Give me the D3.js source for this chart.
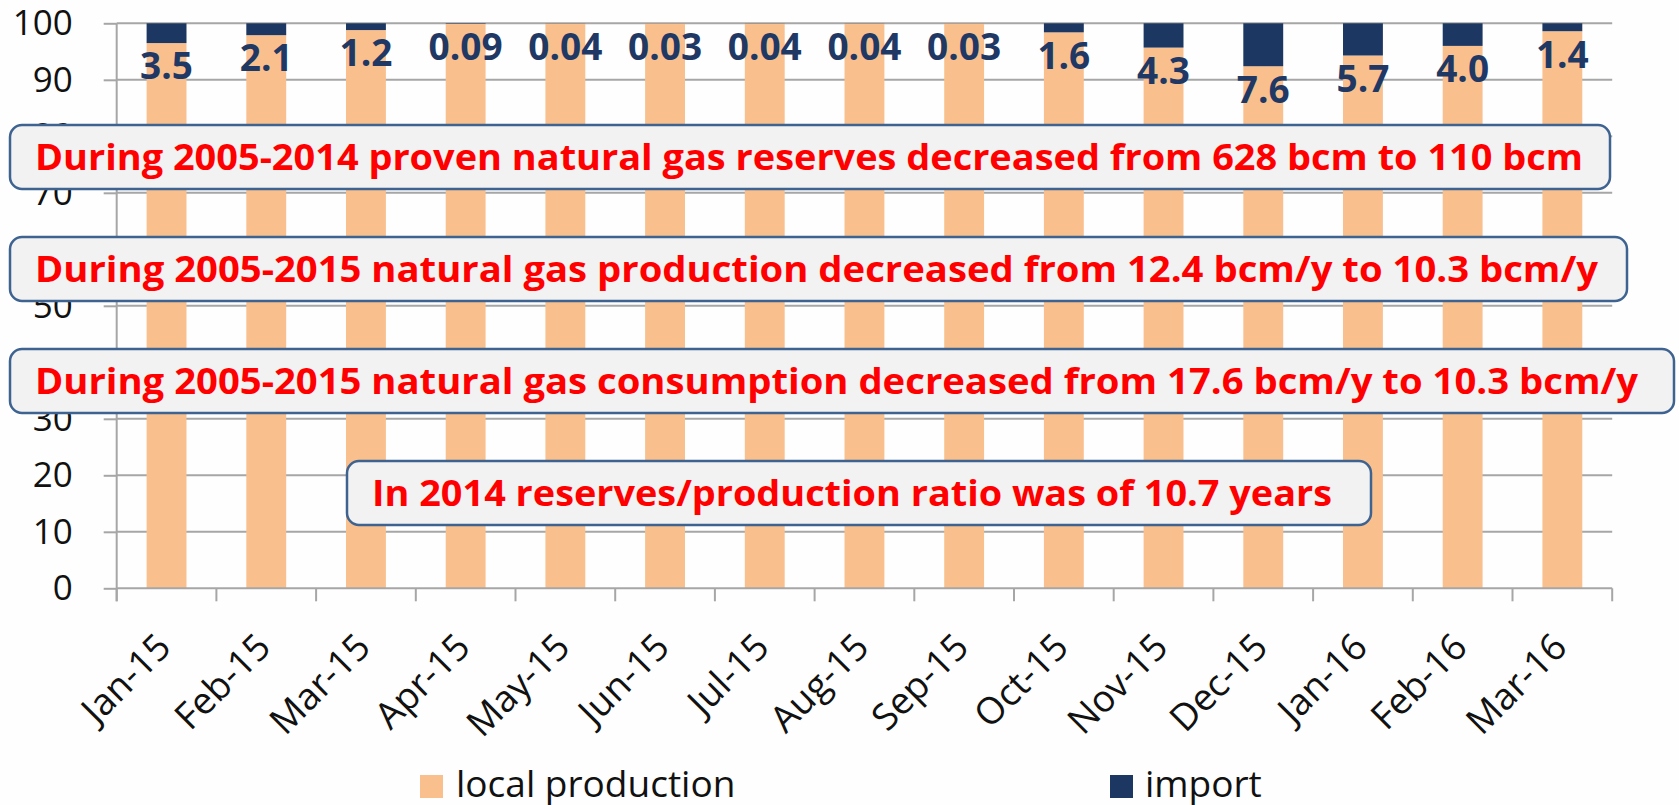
<!DOCTYPE html>
<html>
<head>
<meta charset="utf-8">
<script src="https://cdn.jsdelivr.net/npm/d3@7"></script>
<style>
  html, body { margin: 0; padding: 0; background: #fff; }
  svg { display: block; }
</style>
</head>
<body>
<div id="chart"></div>
<script>
// data (share of consumption, %)
const months = ['Jan-15', 'Feb-15', 'Mar-15', 'Apr-15', 'May-15', 'Jun-15', 'Jul-15', 'Aug-15',
  'Sep-15', 'Oct-15', 'Nov-15', 'Dec-15', 'Jan-16', 'Feb-16', 'Mar-16'];
const localProduction = [96.5, 97.9, 98.8, 99.91, 99.96, 99.97, 99.96, 99.96, 99.97, 98.4, 95.7, 92.4, 94.3, 96.0, 98.6];
const importShare = [3.5, 2.1, 1.2, 0.09, 0.04, 0.03, 0.04, 0.04, 0.03, 1.6, 4.3, 7.6, 5.7, 4.0, 1.4];
const importLabels = ['3.5', '2.1', '1.2', '0.09', '0.04', '0.03', '0.04', '0.04', '0.03', '1.6', '4.3', '7.6', '5.7', '4.0', '1.4'];
const yTicks = [0, 10, 20, 30, 40, 50, 60, 70, 80, 90, 100];
const seriesNames = ['local production', 'import'];
const notes = [
  'During 2005-2014 proven natural gas reserves decreased from 628 bcm to 110 bcm',
  'During 2005-2015 natural gas production decreased from 12.4 bcm/y to 10.3 bcm/y',
  'During 2005-2015 natural gas consumption decreased from 17.6 bcm/y to 10.3 bcm/y',
  'In 2014 reserves/production ratio was of 10.7 years'
];

const W = 1679;
const H = 805;
const margin = { t: 23.3, r: 66.8, b: 216.7, l: 116.7 };
const innerWidth = W - margin.l - margin.r;
const innerHeight = H - margin.t - margin.b;

const colors = { local: '#f9c08e', imp: '#1c3761', grid: '#a6a6a6' };
const font = '"Open Sans", "DejaVu Sans", sans-serif';

const svg = d3.select('#chart').append('svg')
  .attr('width', W)
  .attr('height', H);

svg.append('rect').attr('width', W).attr('height', H).attr('fill', '#fefefe');

const plot = svg.append('g')
  .attr('transform', `translate(${margin.l}, ${margin.t})`);

const x = d3.scaleBand().domain(months).range([0, innerWidth]).paddingInner(0.6).paddingOuter(0.3);
const y = d3.scaleLinear().domain([0, 100]).range([innerHeight, 0]);

// gridlines
plot.append('g')
  .selectAll('line')
  .data(yTicks.filter(d => d > 0))
  .join('line')
  .attr('x1', 0)
  .attr('x2', innerWidth)
  .attr('y1', d => y(d))
  .attr('y2', d => y(d))
  .attr('stroke', colors.grid)
  .attr('stroke-width', 2);

// y axis
const axisY = d3.axisLeft(y).tickValues(yTicks).tickSize(13).tickPadding(31);
const gy = plot.append('g').call(axisY);
gy.select('.domain').remove();
gy.selectAll('line').attr('stroke', colors.grid).attr('stroke-width', 2);
gy.selectAll('text')
  .style('font-family', font)
  .style('font-size', '35px')
  .attr('fill', '#111');

// stacked bars
const rows = months.map((m, i) => ({ month: m, local: localProduction[i], imp: importShare[i] }));
const stack = d3.stack().keys(['local', 'imp'])(rows);

plot.append('g')
  .selectAll('g')
  .data(stack)
  .join('g')
  .attr('fill', d => colors[d.key])
  .selectAll('rect')
  .data(d => d)
  .join('rect')
  .attr('x', d => x(d.data.month))
  .attr('width', x.bandwidth())
  .attr('y', d => y(d[1]))
  .attr('height', d => y(d[0]) - y(d[1]));

// x axis line and ticks at category boundaries
plot.append('line')
  .attr('x1', 0).attr('x2', innerWidth)
  .attr('y1', innerHeight).attr('y2', innerHeight)
  .attr('stroke', colors.grid).attr('stroke-width', 2);
plot.append('line')
  .attr('x1', 0).attr('x2', 0)
  .attr('y1', 0).attr('y2', innerHeight + 13)
  .attr('stroke', colors.grid).attr('stroke-width', 2);

const bounds = months.map(m => x(m) + x.bandwidth() / 2 - x.step() / 2);
bounds.push(innerWidth);
plot.append('g')
  .selectAll('line')
  .data(bounds)
  .join('line')
  .attr('x1', d => d).attr('x2', d => d)
  .attr('y1', innerHeight).attr('y2', innerHeight + 13)
  .attr('stroke', colors.grid).attr('stroke-width', 2);

// rotated month labels
plot.append('g')
  .selectAll('text')
  .data(months)
  .join('text')
  .attr('transform', d => `translate(${x(d) + x.bandwidth() / 2 + 6.5}, ${innerHeight + 61}) rotate(-45)`)
  .attr('text-anchor', 'end')
  .style('font-family', font)
  .style('font-size', '37px')
  .attr('fill', '#111')
  .text(d => d);

// import value labels under the dark segments
plot.append('g')
  .selectAll('text')
  .data(rows)
  .join('text')
  .attr('x', d => x(d.month) + x.bandwidth() / 2)
  .attr('y', d => y(d.local) + 23)
  .attr('dy', '0.36em')
  .attr('text-anchor', 'middle')
  .style('font-family', font)
  .style('font-weight', 700)
  .style('font-size', '37px')
  .attr('fill', '#1f3864')
  .text((d, i) => importLabels[i]);

// legend
const legendPos = [{ x: 420, tx: 456 }, { x: 1110, tx: 1145 }];
const legend = svg.append('g')
  .selectAll('g')
  .data(seriesNames)
  .join('g');
legend.append('rect')
  .attr('x', (d, i) => legendPos[i].x)
  .attr('y', 775)
  .attr('width', 23)
  .attr('height', 23)
  .attr('fill', (d, i) => i === 0 ? colors.local : colors.imp);
legend.append('text')
  .attr('x', (d, i) => legendPos[i].tx)
  .attr('y', 797)
  .style('font-family', font)
  .style('font-size', '37px')
  .attr('fill', '#111')
  .text(d => d);

// annotation boxes on top of the chart
const noteBoxes = [
  { x: 10, y: 125, w: 1600, h: 64, tw: 1548 },
  { x: 10, y: 237, w: 1617, h: 64, tw: 1563 },
  { x: 10, y: 349, w: 1664, h: 64, tw: 1603 },
  { x: 347, y: 461, w: 1024, h: 64, tw: 960 }
];
const boxes = svg.append('g')
  .selectAll('g')
  .data(notes)
  .join('g')
  .attr('transform', (d, i) => `translate(${noteBoxes[i].x}, ${noteBoxes[i].y})`);
boxes.append('rect')
  .attr('width', (d, i) => noteBoxes[i].w)
  .attr('height', (d, i) => noteBoxes[i].h)
  .attr('rx', 12)
  .attr('fill', '#f2f2f2')
  .attr('stroke', '#3e6391')
  .attr('stroke-width', 2.5);
boxes.append('text')
  .attr('x', 25)
  .attr('y', 45)
  .attr('textLength', (d, i) => noteBoxes[i].tw)
  .attr('lengthAdjust', 'spacingAndGlyphs')
  .style('font-family', font)
  .style('font-weight', 700)
  .style('font-size', '35px')
  .attr('fill', '#ff0000')
  .text(d => d);
</script>
</body>
</html>
